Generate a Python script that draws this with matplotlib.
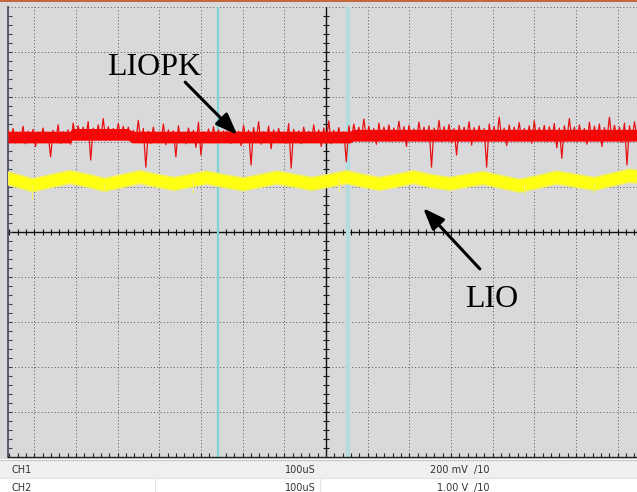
import numpy as np
import matplotlib

matplotlib.use("Agg")
import matplotlib.pyplot as plt
from matplotlib.patches import Rectangle

# screen coordinates are in divisions, centre of the graticule = (0, 0)
X_LIM = (-7.63, 7.46)
Y_LIM = (-5.0, 5.0)

# CH1 (LIOPK), sampled evenly across the visible time window, in divisions
red_trace = [
    2.25, 2.00, 2.30, 1.98, 2.21, 2.02, 2.35, 1.96, 2.24, 2.01, 2.28, 1.90,
    2.22, 2.03, 2.31, 1.99, 2.20, 1.67, 2.26, 2.00, 2.38, 1.97, 2.23, 2.02,
    2.27, 1.95, 2.42, 2.10, 2.36, 2.08, 2.33, 2.11, 2.45, 1.60, 2.31, 2.06,
    2.38, 2.09, 2.52, 2.04, 2.34, 2.10, 2.30, 2.07, 2.41, 2.12, 2.35, 2.05,
    2.33, 2.08, 2.26, 2.01, 2.48, 2.00, 2.30, 1.44, 2.24, 1.97, 2.33, 2.02,
    2.22, 1.99, 2.40, 1.94, 2.27, 2.03, 2.25, 1.67, 2.36, 2.00, 2.21, 1.96,
    2.31, 2.02, 2.26, 1.88, 2.44, 1.71, 2.23, 2.01, 2.29, 1.98, 2.34, 2.03,
    2.27, 2.00, 2.25, 2.05, 2.50, 1.97, 2.28, 2.04, 2.24, 1.92, 2.37, 2.01,
    2.26, 1.49, 2.32, 2.00, 2.45, 1.95, 2.23, 2.02, 2.35, 1.85, 2.27, 1.99,
    2.30, 2.03, 2.22, 1.97, 2.41, 1.42, 2.28, 2.01, 2.25, 1.96, 2.33, 2.04,
    2.24, 1.99, 2.38, 2.02, 2.27, 1.90, 2.31, 2.00, 2.47, 1.96, 2.26, 2.03,
    2.32, 1.98, 2.23, 1.56, 2.36, 2.05, 2.40, 2.09, 2.33, 2.06, 2.51, 2.08,
    2.35, 2.04, 2.30, 1.95, 2.42, 2.07, 2.33, 2.10, 2.38, 2.02, 2.31, 2.08,
    2.46, 2.05, 2.34, 1.90, 2.37, 2.09, 2.29, 2.06, 2.44, 2.03, 2.33, 2.07,
    2.36, 1.44, 2.31, 2.06, 2.48, 2.01, 2.34, 2.08, 2.39, 1.98, 2.30, 1.71,
    2.37, 2.05, 2.33, 2.09, 2.45, 1.93, 2.32, 2.07, 2.36, 2.04, 2.30, 1.44,
    2.40, 2.06, 2.34, 2.02, 2.55, 2.08, 2.31, 1.92, 2.38, 2.05, 2.33, 2.09,
    2.43, 2.03, 2.30, 2.07, 2.36, 1.97, 2.47, 2.05, 2.32, 2.08, 2.37, 2.01,
    2.34, 2.06, 2.41, 1.87, 2.31, 1.64, 2.36, 2.04, 2.52, 2.07, 2.33, 2.02,
    2.38, 2.08, 2.30, 1.95, 2.44, 2.05, 2.35, 2.09, 2.40, 1.90, 2.32, 2.06,
    2.55, 2.03, 2.37, 2.07, 2.33, 1.99, 2.42, 1.49, 2.36, 2.05, 2.45, 2.10,
]
# dense core of the CH1 noise band (upper / lower edge)
red_core_x = [-7.63, -6.14, -6.09, -4.75, -4.65, 0.58, 0.65, 7.46]
red_core_top = [2.24, 2.24, 2.30, 2.30, 2.24, 2.24, 2.28, 2.28]
red_core_bot = [1.98, 1.98, 2.04, 2.04, 1.98, 1.98, 2.02, 2.02]

# CH2 (LIO): centre of the ripple band and its noise half-width, in divisions
yellow_x = [
    -7.63, -7.05, -6.62, -6.16, -5.73, -5.32, -4.92, -4.48, -4.08, -3.65,
    -3.26, -2.88, -2.45, -2.01, -1.61, -1.20, -0.77, -0.36, 0.07, 0.48,
    0.86, 1.27, 1.68, 2.09, 2.52, 2.95, 3.36, 3.76, 4.20, 4.63,
    5.06, 5.52, 5.97, 6.43, 6.83, 7.27, 7.46,
]
yellow_mid = [
    1.20, 1.05, 1.14, 1.23, 1.15, 1.06, 1.14, 1.23, 1.15, 1.08,
    1.15, 1.22, 1.14, 1.07, 1.14, 1.22, 1.15, 1.08, 1.15, 1.23,
    1.15, 1.08, 1.15, 1.23, 1.14, 1.08, 1.15, 1.21, 1.12, 1.04,
    1.12, 1.22, 1.15, 1.08, 1.17, 1.26, 1.24,
]
yellow_noise = 0.14
yellow_spike_x = [-7.05, -5.32, -3.20, 0.30, 4.75, 6.43]
yellow_spike_low = [0.71, 0.88, 0.85, 0.90, 0.82, 0.86]

cursor_x = [-2.59, 0.53]

channels = ["CH1", "CH2"]
timebase = ["100uS", "100uS"]
volts_div = ["200 mV", "1.00 V"]
probe = ["/10", "/10"]

W, H = 637, 492
BG = "#d9d9db"

fig = plt.figure(figsize=(W / 100, H / 100), dpi=100, facecolor="white")

# window chrome drawn in pixel coordinates
ui = fig.add_axes([0, 0, 1, 1], zorder=0)
ui.set_xlim(0, W)
ui.set_ylim(H, 0)
ui.axis("off")
ui.add_patch(Rectangle((0, 0), W, 459, color=BG, lw=0))
ui.add_patch(Rectangle((0, 0), W, 2, color="#c4673e", lw=0))
ui.add_patch(Rectangle((0, 460), W, 18, color="#efefef", lw=0))
ui.plot([0, W], [460, 460], color="#c8c8c8", lw=0.8)
ui.plot([0, W], [478, 478], color="#e2e2e2", lw=0.8)
for sx in (155, 320):
    ui.plot([sx, sx], [478, H], color="#e4e4e4", lw=0.8)

for i, name in enumerate(channels):
    ty = 470 + 18 * i
    kw = dict(fontsize=7, color="#333333", va="center", family="DejaVu Sans")
    ui.text(12, ty, name, ha="left", **kw)
    ui.text(316, ty, timebase[i], ha="right", **kw)
    ui.text(468, ty, volts_div[i], ha="right", **kw)
    ui.text(474, ty, probe[i], ha="left", **kw)

# scope screen
ax = fig.add_axes([8 / W, (H - 457) / H, 629 / W, 450 / H], zorder=1)
ax.set_facecolor(BG)
ax.set_xlim(*X_LIM)
ax.set_ylim(*Y_LIM)
ax.set_xticks([])
ax.set_yticks([])
for side in ("top", "right"):
    ax.spines[side].set_visible(False)
ax.spines["left"].set_color("#3d4756")
ax.spines["left"].set_linewidth(1.2)
ax.spines["bottom"].set_color("#222222")
ax.spines["bottom"].set_linewidth(1.0)

grid = dict(color="#555555", lw=0.7, ls=(0, (1, 2.4)), zorder=1)
for gx in range(-7, 8):
    if gx != 0:
        ax.axvline(gx, **grid)
for gy in range(-4, 6):
    if gy != 0:
        ax.axhline(gy, **grid)

ax.axhline(0, color="#111111", lw=1.0, zorder=2)
ax.axvline(0, color="#111111", lw=1.0, zorder=2)
minor_x = np.arange(-38, 38) * 0.2
minor_y = np.arange(-24, 25) * 0.2
ax.plot(minor_x, np.zeros_like(minor_x), ls="none", marker="|",
        ms=4.5, mew=0.8, color="#111111", zorder=2)
ax.plot(np.zeros_like(minor_y), minor_y, ls="none", marker="_",
        ms=4.5, mew=0.8, color="#111111", zorder=2)
ax.plot(np.full_like(minor_y, X_LIM[0]), minor_y, ls="none", marker=1,
        ms=3, mew=0.8, color="#3d4756", zorder=2, clip_on=False)
ax.plot(minor_x, np.full_like(minor_x, Y_LIM[0]), ls="none", marker=2,
        ms=3, mew=0.8, color="#222222", zorder=2, clip_on=False)

ax.axvline(cursor_x[0], color="#7fd3d6", lw=1.6, zorder=2)
ax.axvline(cursor_x[1], color="#b2dde0", lw=3.0, zorder=2)

# CH2 trace
ymid = np.array(yellow_mid)
ax.fill_between(yellow_x, ymid - yellow_noise, ymid + yellow_noise,
                color="#ffff14", lw=1.2, edgecolor="#f4f24e", zorder=3)
ax.vlines(yellow_spike_x, yellow_spike_low, np.interp(yellow_spike_x, yellow_x, ymid),
          color="#eeee70", lw=0.8, zorder=3)

# CH1 trace
ax.fill_between(red_core_x, red_core_bot, red_core_top,
                color="#ff0000", lw=0, zorder=4)
t = np.linspace(X_LIM[0], X_LIM[1], len(red_trace))
ax.plot(t, red_trace, color="#e81010", lw=0.9, zorder=4)

# annotations
serif = dict(family="Liberation Serif", fontsize=23, color="black")
ax.text(-5.24, 3.49, "LIOPK", ha="left", va="baseline", zorder=6, **serif)
ax.text(3.33, -1.67, "LIO", ha="left", va="baseline", zorder=6, **serif)
arrow = dict(arrowstyle="-|>,head_length=0.65,head_width=0.25",
             color="black", lw=2.2, mutation_scale=20, shrinkA=0, shrinkB=0)
ax.annotate("", xy=(-2.13, 2.16), xytext=(-3.38, 3.33), arrowprops=arrow, zorder=6)
ax.annotate("", xy=(2.33, 0.53), xytext=(3.69, -0.82), arrowprops=arrow, zorder=6)

fig.savefig("out.png", dpi=100, facecolor=fig.get_facecolor())
